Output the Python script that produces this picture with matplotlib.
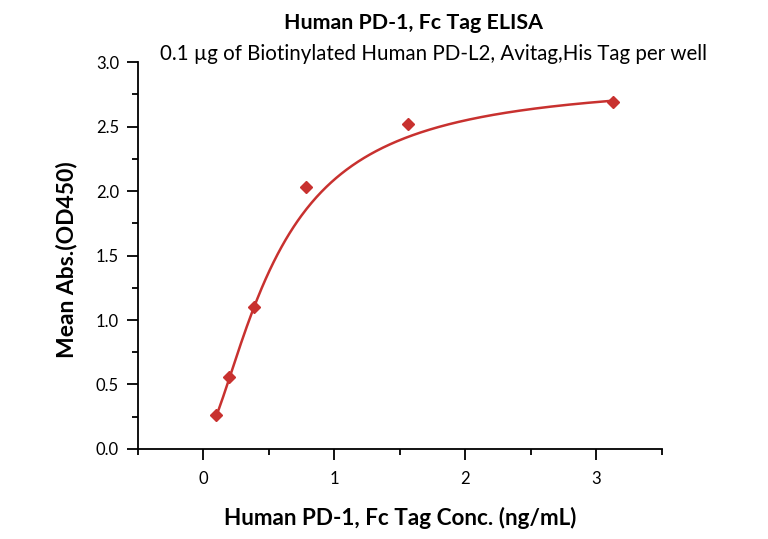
import numpy as np
import matplotlib
matplotlib.use("Agg")
import matplotlib.pyplot as plt
from matplotlib.ticker import MultipleLocator, FormatStrFormatter

plt.rcParams['font.family'] = ['Lato', 'DejaVu Sans']

# data
conc = [0.098, 0.195, 0.391, 0.781, 1.5625, 3.125]
od450 = [0.26, 0.56, 1.10, 2.03, 2.52, 2.69]

# 4-parameter logistic fit shown in the reference (bottom, hill slope, EC50, top)
fit_bottom = 0.08
fit_slope = 1.58
fit_ec50 = 0.55
fit_top = 2.87

title = "Human PD-1, Fc Tag ELISA"
subtitle = "0.1 \u00b5g of Biotinylated Human PD-L2, Avitag,His Tag per well"
xlabel = "Human PD-1, Fc Tag Conc. (ng/mL)"
ylabel = "Mean Abs.(OD450)"
color = "#C8312F"

x = np.array(conc)
y = np.array(od450)

xf = np.linspace(x.min(), x.max(), 400)
yf = fit_top + (fit_bottom - fit_top) / (1.0 + (xf / fit_ec50) ** fit_slope)

fig = plt.figure(figsize=(7.68, 5.39), dpi=100)
ax = fig.add_axes([0.1793, 0.1672, 0.6823, 0.7173])

ax.plot(xf, yf, color=color, lw=1.8, zorder=2)
ax.plot(x, y, linestyle='none', marker='D', ms=6.5, color=color, zorder=3)

ax.set_xlim(-0.5, 3.5)
ax.set_ylim(0, 3.0)
ax.xaxis.set_major_locator(MultipleLocator(1))
ax.xaxis.set_minor_locator(MultipleLocator(0.5))
ax.yaxis.set_major_locator(MultipleLocator(0.5))
ax.yaxis.set_minor_locator(MultipleLocator(0.25))
ax.yaxis.set_major_formatter(FormatStrFormatter('%.1f'))

for s in ['top', 'right']:
    ax.spines[s].set_visible(False)
for s in ['left', 'bottom']:
    ax.spines[s].set_linewidth(1.3)
    ax.spines[s].set_color('black')

ax.tick_params(which='major', direction='out', length=8, width=1.3, labelsize=12)
ax.tick_params(which='minor', direction='out', length=4.3, width=1.3)
ax.tick_params(axis='y', which='major', pad=5.5)
ax.tick_params(axis='x', which='major', pad=8)

ax.set_xlabel(xlabel, fontsize=16.2, fontweight='bold')
ax.xaxis.label.set_va('center')
ax.xaxis.set_label_coords(0.5, -0.178)
ax.set_ylabel(ylabel, fontsize=16.5, fontweight='bold')
ax.yaxis.label.set_va('center')
ax.yaxis.label.set_ha('center')
ax.yaxis.set_label_coords(-0.1355, 0.489)

fig.text(0.538, 0.957, title, ha='center', va='center', fontsize=15.4, fontweight='bold')
fig.text(0.564, 0.900, subtitle, ha='center', va='center', fontsize=14.8)

fig.savefig("out.png", dpi=100)
